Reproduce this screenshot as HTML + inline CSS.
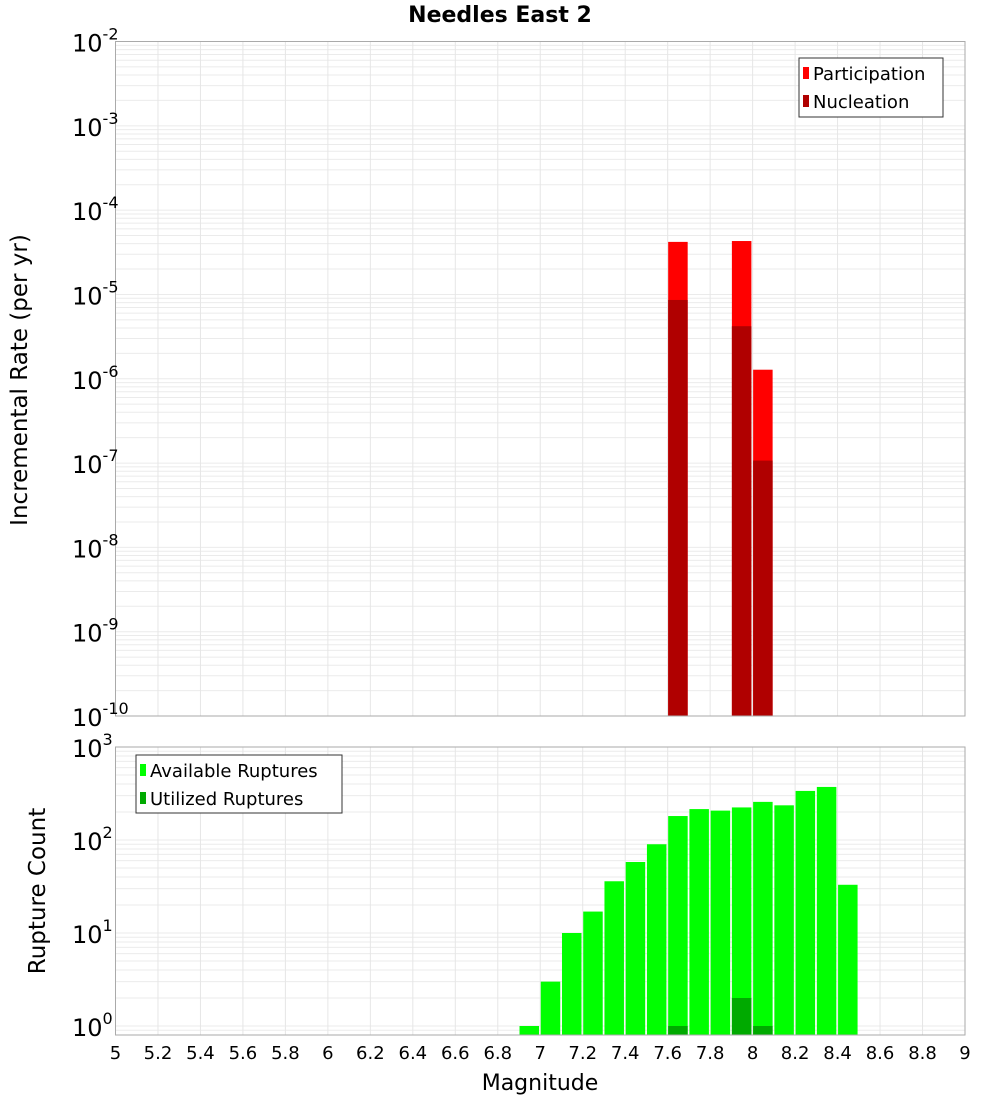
<!DOCTYPE html>
<html><head><meta charset="utf-8"><style>
body{margin:0;background:#fff;font-family:"Liberation Sans","DejaVu Sans",sans-serif}
svg text{font-family:"DejaVu Sans","Liberation Sans",sans-serif}
</style></head><body>
<svg id="c" width="1000" height="1100" xmlns="http://www.w3.org/2000/svg"></svg>
<script>
const mags = [6.9,7.0,7.1,7.2,7.3,7.4,7.5,7.6,7.7,7.8,7.9,8.0,8.1,8.2,8.3,8.4];
const available = [1,3,10,17,36,58,90,181,215,207,224,257,236,337,372,33];
const utilizedMags = [7.6,7.9,8.0];
const utilized = [1,2,1];
const rateMags = [7.6,7.9,8.0];
const participation = [4.2e-5,4.3e-5,1.28e-6];
const nucleation = [8.6e-6,4.2e-6,1.07e-7];
const xTicks = [5,5.2,5.4,5.6,5.8,6,6.2,6.4,6.6,6.8,7,7.2,7.4,7.6,7.8,8,8.2,8.4,8.6,8.8,9];
const topExps = [-2,-3,-4,-5,-6,-7,-8,-9,-10];
const botExps = [0,1,2,3];

const NS="http://www.w3.org/2000/svg";
const svg=document.getElementById('c');
function el(t,a,p){const e=document.createElementNS(NS,t);for(const k in a)e.setAttribute(k,a[k]);(p||svg).appendChild(e);return e;}
const L=115.5,R=965;
const X=m=>L+(m-5)/4*(R-L);
const T1=41.5,B1=716;
const Y1=v=>T1+(-2-Math.log10(v))/8*(B1-T1);
const T2=747,B2=1035;
const Y2=v=>1026-Math.log10(v)*93;

function panel(T,B,Yf,lo,hi,name){
  const g=el('g',{},svg);
  
  
  for(let e=lo;e<hi;e++)for(let k=1;k<10;k++){const y=Yf(k*Math.pow(10,e));if(y<T||y>B)continue;
    el('line',{x1:L,x2:R,y1:y,y2:y,stroke:'#ebebeb','stroke-width':1},g);}
  xTicks.forEach(t=>{el('line',{x1:X(t),x2:X(t),y1:T,y2:B,stroke:'#e6e6e6','stroke-width':1},g);});
}
panel(T1,B1,Y1,-10,-2,'top');
panel(T2,B2,Y2,-1,3,'bottom');

const bw=19.5;
rateMags.forEach((m,i)=>{
  const r=el('rect',{x:X(m)+0.5,y:Y1(participation[i]),width:bw,height:B1-Y1(participation[i]),fill:'#ff0000'});
  
  
  const n=el('rect',{x:X(m)+0.5,y:Y1(nucleation[i]),width:bw,height:B1-Y1(nucleation[i]),fill:'#b00000'});
  
  
});
mags.forEach((m,i)=>{
  const r=el('rect',{x:X(m)+0.5,y:Y2(available[i]),width:bw,height:B2-Y2(available[i]),fill:'#00ff00'});
  
  
});
utilizedMags.forEach((m,i)=>{
  const r=el('rect',{x:X(m)+0.5,y:Y2(utilized[i]),width:bw,height:B2-Y2(utilized[i]),fill:'#00aa00'});
  
  
});
el('rect',{x:L,y:T1,width:R-L,height:B1-T1,fill:'none',stroke:'#aaa','stroke-width':1});
el('rect',{x:L,y:T2,width:R-L,height:B2-T2,fill:'none',stroke:'#aaa','stroke-width':1});

topExps.forEach(e=>{const t=el('text',{x:72,y:Y1(Math.pow(10,e))+10,'font-size':24,fill:'#000'});
  
  t.innerHTML='10<tspan dy="-12" font-size="16">'+e+'</tspan>';});
botExps.forEach(e=>{const t=el('text',{x:72,y:Y2(Math.pow(10,e))+10,'font-size':24,fill:'#000'});
  
  t.innerHTML='10<tspan dy="-12" font-size="16">'+e+'</tspan>';});
xTicks.forEach(v=>{const t=el('text',{x:X(v),y:1059,'font-size':18,'text-anchor':'middle',fill:'#000'});
  
  t.textContent=String(v);});
</script>
<svg style="position:absolute;left:0;top:0" width="1000" height="1100" xmlns="http://www.w3.org/2000/svg">
<text x="500" y="22" font-size="22" font-weight="bold" text-anchor="middle" font-family="DejaVu Sans">Needles East 2</text>
<text transform="translate(27,380) rotate(-90)" font-size="23" text-anchor="middle" font-family="DejaVu Sans">Incremental Rate (per yr)</text>
<text transform="translate(45,891) rotate(-90)" font-size="23" text-anchor="middle" font-family="DejaVu Sans">Rupture Count</text>
<text x="540" y="1090" font-size="22" text-anchor="middle" font-family="DejaVu Sans">Magnitude</text>
<g>
<rect x="799" y="58" width="144" height="59" fill="#fff" stroke="#333" stroke-width="1"/>
<rect x="803" y="67" width="6" height="12" fill="#ff0000"/>
<text x="813" y="80" font-size="18" font-family="DejaVu Sans">Participation</text>
<rect x="803" y="95" width="6" height="12" fill="#b00000"/>
<text x="813" y="108" font-size="18" font-family="DejaVu Sans">Nucleation</text>
</g>
<g>
<rect x="136" y="755" width="206" height="58" fill="#fff" stroke="#333" stroke-width="1"/>
<rect x="140" y="764" width="6" height="12" fill="#00ff00"/>
<text x="150" y="777" font-size="18" font-family="DejaVu Sans">Available Ruptures</text>
<rect x="140" y="792" width="6" height="12" fill="#00aa00"/>
<text x="150" y="805" font-size="18" font-family="DejaVu Sans">Utilized Ruptures</text>
</g>
</svg>
</body></html>
